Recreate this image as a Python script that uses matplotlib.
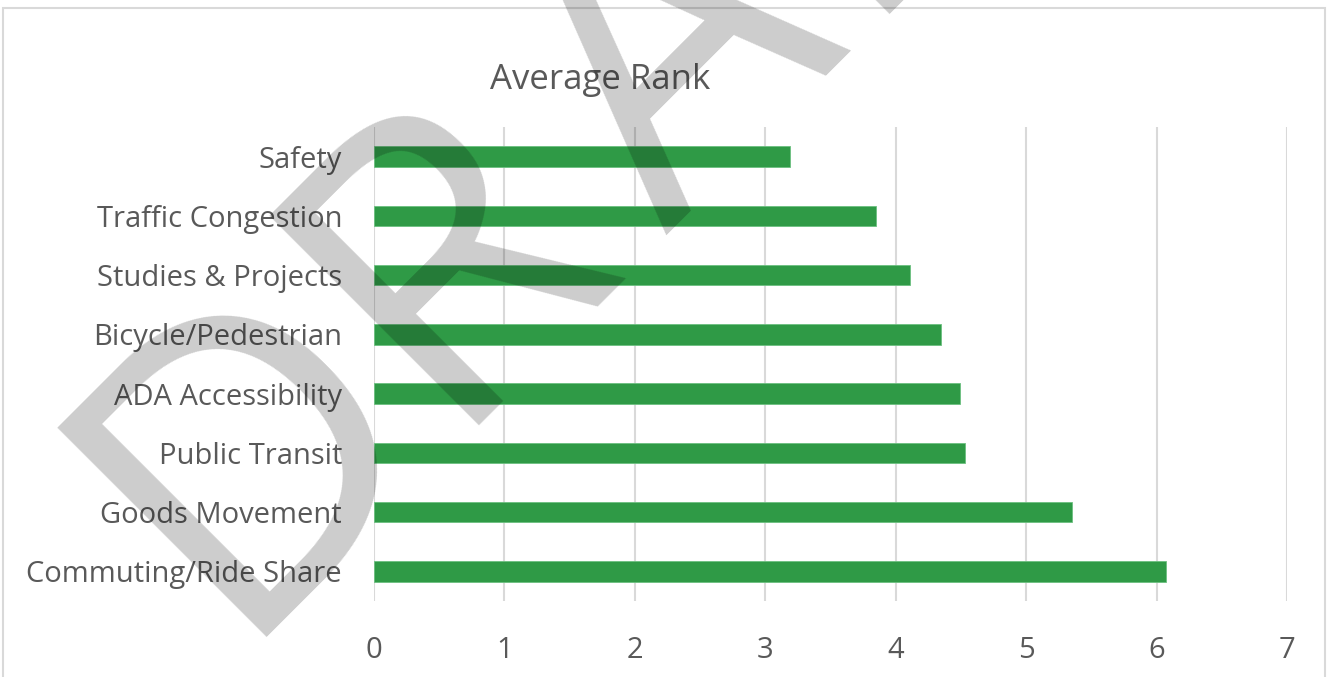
import numpy as np
import matplotlib.pyplot as plt
from matplotlib.patches import Rectangle

# average rank per topic, top to bottom as in the chart
categories = ['Safety', 'Traffic Congestion', 'Studies & Projects', 'Bicycle/Pedestrian',
              'ADA Accessibility', 'Public Transit', 'Goods Movement', 'Commuting/Ride Share']
avg_rank = [3.19, 3.85, 4.11, 4.35, 4.49, 4.53, 5.35, 6.07]
x_ticks = [0, 1, 2, 3, 4, 5, 6, 7]

plt.rcParams['font.family'] = ['Open Sans', 'DejaVu Sans']
txt = '#595959'
W, H = 1333, 677

fig = plt.figure(figsize=(13.33, 6.77), dpi=100)
ax = fig.add_axes([374 / W, 1 - 601 / H, 913 / W, 474 / H])

ax.barh(range(len(categories)), avg_rank, height=0.35, color='#2f9a46',
        edgecolor='#6cc080', linewidth=0.6, zorder=3)
ax.set_yticks(range(len(categories)))
ax.set_yticklabels(categories)
ax.set_ylim(len(categories) - 0.5, -0.5)
ax.set_xlim(0, 7)
ax.set_xticks(x_ticks)
ax.grid(axis='x', color='#d9d9d9', linewidth=1.5, zorder=0)
for s in ax.spines.values():
    s.set_visible(False)
ax.tick_params(axis='both', length=0, labelsize=21, labelcolor=txt)
ax.tick_params(axis='y', pad=23)
ax.tick_params(axis='x', pad=25)

fig.text(600 / W, 1 - 89 / H, 'Average Rank', ha='center', va='baseline',
         fontsize=25, color=txt)

# chart border
fig.patches.append(Rectangle((3 / W, -0.05), 1322 / W, 1.05 - 8 / H,
                             transform=fig.transFigure, fill=False,
                             edgecolor='#d9d9d9', linewidth=1.5))

# watermark, letter by letter along a 45 degree baseline
# (A has no side bearing, so it gets an extra nudge to the right)
wm_letters = ['D', 'R', 'A', 'F', 'T']
wm_offsets = [0, 300, 568, 881, 1110]   # px along the baseline
wm_nudge = [0, 0, 38, 0, 0]
x0, y0 = 227, 637
for ch, d, nx in zip(wm_letters, wm_offsets, wm_nudge):
    px = x0 + nx + d * np.cos(np.radians(45))
    py = y0 - d * np.sin(np.radians(45))
    fig.text(px / W, 1 - py / H, ch, rotation=45, rotation_mode='anchor',
             ha='left', va='baseline', fontsize=298, color='black', alpha=0.2,
             zorder=10)

fig.savefig('out.png', dpi=100)
